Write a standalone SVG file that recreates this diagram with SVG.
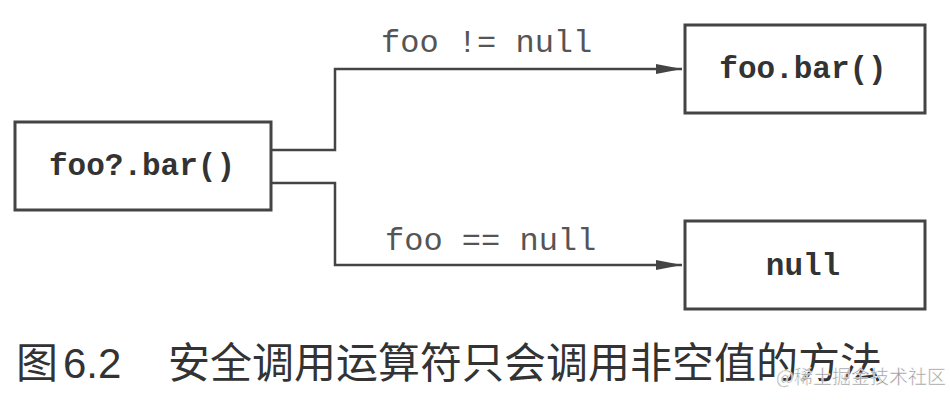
<svg xmlns="http://www.w3.org/2000/svg" width="950" height="402" viewBox="0 0 950 402">
<defs>
<style>
.box{fill:#fff;stroke:#444;stroke-width:3}
.code{font-family:"Liberation Mono","DejaVu Sans Mono",monospace;font-weight:bold;font-size:31px;fill:#333;text-anchor:middle}
.lbl{font-family:"Liberation Mono","DejaVu Sans Mono",monospace;font-size:32px;fill:#555}
.wire{fill:none;stroke:#444;stroke-width:2.5}
.cap{font-family:"Liberation Sans","Noto Sans CJK SC",sans-serif;font-size:42px;fill:#333}
</style>
<marker id="ah" markerUnits="userSpaceOnUse" markerWidth="26" markerHeight="12" refX="26" refY="6" orient="auto">
<path d="M0,1 L26,6 L0,11 Z" fill="#444"/>
</marker>
</defs>
<rect width="950" height="402" fill="#fff"/>
<g id="connectors">
<path class="wire" d="M271,150 H335 V69 H682" marker-end="url(#ah)"/>
<path class="wire" d="M271,183 H335 V265 H682" marker-end="url(#ah)"/>
<text class="lbl" x="381" y="52">foo != null</text>
<text class="lbl" x="385" y="250">foo == null</text>
</g>
<g id="node-src">
<rect class="box" x="15" y="122" width="256" height="88"/>
<text class="code" x="142" y="175">foo?.bar()</text>
</g>
<g id="node-call">
<rect class="box" x="685" y="25" width="240" height="88"/>
<text class="code" x="803" y="78">foo.bar()</text>
</g>
<g id="node-null">
<rect class="box" x="685" y="221" width="240" height="88"/>
<text class="code" x="803" y="275">null</text>
</g>
<g id="caption">
<text class="cap" x="16" y="378">图</text>
<text class="cap" x="63" y="378">6.2</text>
<text class="cap" x="168" y="378">安全调用运算符只会调用非空值的方法</text>
<text x="776" y="384" font-family="Noto Sans CJK SC, sans-serif" font-size="19" fill="#999" stroke="#fff" stroke-width="0.5">@稀土掘金技术社区</text>
</g>
</svg>
